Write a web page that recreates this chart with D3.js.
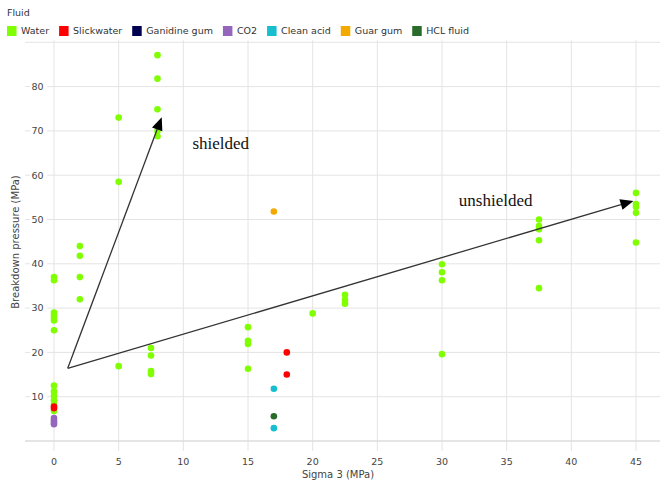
<!DOCTYPE html>
<html>
<head>
<meta charset="utf-8">
<script src="https://cdn.jsdelivr.net/npm/d3@7"></script>
<style>
  html, body { margin: 0; padding: 0; background: #fff; }
  svg { display: block; }
</style>
</head>
<body>
<svg id="chart" width="663" height="487"></svg>
<script>
// ---------- DATA ----------
const fluids = ["Water", "Slickwater", "Ganidine gum", "CO2", "Clean acid", "Guar gum", "HCL fluid"];
const fluidColors = ["#7fff00", "#ff0000", "#000050", "#9467bd", "#17becf", "#f2a900", "#2a6a2a"];

const waterX = [0,0,0,0,0,0,0,0,0,0,0,0,0,
                2,2,2,2,
                5,5,5,
                7.5,7.5,7.5,7.5,
                8,8,8,8,8,
                15,15,15,15,
                20,
                22.5,22.5,22.5,
                30,30,30,30,
                37.5,37.5,37.5,37.5,37.5,
                45,45,45,45,45];
const waterY = [37,36.3,29,28.4,27.8,27.2,25,12.5,11.2,10.2,9.2,8.4,6.8,
                44,41.8,37,32,
                73,58.5,16.9,
                21,19.3,15.8,15.1,
                87.1,81.8,74.9,70,68.8,
                25.7,22.6,21.9,16.3,
                28.8,
                33,31.9,31,
                39.9,38.1,36.3,19.6,
                50,48.5,47.8,45.3,34.5,
                56,53.5,52.8,51.5,44.8];
const slickwaterX = [0,0,18,18];
const slickwaterY = [7.8,7.4,20,15];
const ganidineX = [];
const ganidineY = [];
const co2X = [0,0,0,0];
const co2Y = [5.2,4.7,4.2,3.8];
const cleanAcidX = [17,17];
const cleanAcidY = [11.8,2.9];
const guarGumX = [17];
const guarGumY = [51.8];
const hclX = [17];
const hclY = [5.6];

const xTicks = [0,5,10,15,20,25,30,35,40,45];
const yTicks = [10,20,30,40,50,60,70,80];
const yGrid = [0,10,20,30,40,50,60,70,80,90];

// annotation arrows (data units)
const arrowStart = [1.06, 16.4];
const shieldedEnd = [8.33, 73.1];
const unshieldedEnd = [44.8, 54.2];
const annotLabels = ["shielded", "unshielded"];
const annotPos = [[10.7, 66.0], [31.3, 53.1]];

// ---------- DRAW ----------
const svg = d3.select("#chart");
const x = d3.scaleLinear().domain([0, 45]).range([54, 636]);
const y = d3.scaleLinear().domain([0, 90]).range([441, 42.3]);
const color = d3.scaleOrdinal().domain(fluids).range(fluidColors);

const plotLeft = 25, plotRight = 660;

// vertical gridlines
svg.append("g").selectAll("line").data(xTicks).join("line")
  .attr("x1", d => x(d)).attr("x2", d => x(d))
  .attr("y1", y(90) - 2).attr("y2", y(0) + 10)
  .attr("stroke", "#e4e4e4").attr("stroke-width", 1);

// horizontal gridlines
svg.append("g").selectAll("line").data(yGrid).join("line")
  .attr("x1", plotLeft).attr("x2", plotRight)
  .attr("y1", d => y(d)).attr("y2", d => y(d))
  .attr("stroke", d => d === 0 ? "#dcdcdc" : "#e4e4e4").attr("stroke-width", d => d === 0 ? 1.5 : 1);

// y tick labels with white background
const yl = svg.append("g").selectAll("g").data(yTicks).join("g")
  .attr("transform", d => `translate(43.5,${y(d)})`);
yl.append("rect").attr("x", -13.5).attr("y", -6).attr("width", 17).attr("height", 12).attr("fill", "#fff");
yl.append("text").attr("text-anchor", "end").attr("dy", "0.35em")
  .attr("font-family", "DejaVu Sans, sans-serif").attr("font-size", 9.5).attr("fill", "#444")
  .text(d => d);

// x tick labels
svg.append("g").selectAll("text").data(xTicks).join("text")
  .attr("x", d => x(d)).attr("y", 462).attr("dy", "0.35em").attr("text-anchor", "middle")
  .attr("font-family", "DejaVu Sans, sans-serif").attr("font-size", 9.5).attr("fill", "#444")
  .text(d => d);

// axis titles
svg.append("text").attr("x", 338).attr("y", 474).attr("dy", "0.35em").attr("text-anchor", "middle")
  .attr("font-family", "DejaVu Sans, sans-serif").attr("font-size", 10).attr("fill", "#444")
  .text("Sigma 3 (MPa)");
svg.append("text").attr("transform", "translate(15,242) rotate(-90)").attr("dy", "0.35em").attr("text-anchor", "middle")
  .attr("font-family", "DejaVu Sans, sans-serif").attr("font-size", 10).attr("fill", "#444")
  .text("Breakdown pressure (MPa)");

// points
const series = [
  ["Water", waterX, waterY],
  ["Slickwater", slickwaterX, slickwaterY],
  ["Ganidine gum", ganidineX, ganidineY],
  ["CO2", co2X, co2Y],
  ["Clean acid", cleanAcidX, cleanAcidY],
  ["Guar gum", guarGumX, guarGumY],
  ["HCL fluid", hclX, hclY]
];
series.forEach(([name, xs, ys]) => {
  const pts = xs.map((v, i) => [v, ys[i]]);
  svg.append("g").selectAll("circle").data(pts).join("circle")
    .attr("cx", d => x(d[0])).attr("cy", d => y(d[1])).attr("r", 3.3)
    .attr("fill", color(name));
});

// arrows
function arrow(from, to) {
  const x0 = x(from[0]), y0 = y(from[1]), x1 = x(to[0]), y1 = y(to[1]);
  const ang = Math.atan2(y1 - y0, x1 - x0);
  const L = 13, W = 5.5;
  const bx = x1 - L * Math.cos(ang), by = y1 - L * Math.sin(ang);
  svg.append("line").attr("x1", x0).attr("y1", y0).attr("x2", bx).attr("y2", by)
    .attr("stroke", "#333").attr("stroke-width", 1.3);
  const px = -Math.sin(ang), py = Math.cos(ang);
  svg.append("path")
    .attr("d", `M${x1},${y1}L${bx + W * px},${by + W * py}L${bx - W * px},${by - W * py}Z`)
    .attr("fill", "#000");
}
arrow(arrowStart, shieldedEnd);
arrow(arrowStart, unshieldedEnd);

// annotation text
svg.append("g").selectAll("text").data(annotLabels).join("text")
  .attr("x", (d, i) => x(annotPos[i][0])).attr("y", (d, i) => y(annotPos[i][1]))
  .attr("font-family", "Liberation Serif, Times New Roman, serif").attr("font-size", 17).attr("fill", "#111")
  .text(d => d);

// legend
svg.append("text").attr("x", 7).attr("y", 13).attr("dy", "0.35em")
  .attr("font-family", "DejaVu Sans, sans-serif").attr("font-size", 9.5).attr("fill", "#333")
  .text("Fluid");
let lx = 7;
fluids.forEach((f, i) => {
  const g = svg.append("g").attr("transform", `translate(${lx},26)`);
  g.append("rect").attr("width", 9.5).attr("height", 10).attr("fill", fluidColors[i]);
  const t = g.append("text").attr("x", 14).attr("y", 5).attr("dy", "0.35em")
    .attr("font-family", "DejaVu Sans, sans-serif").attr("font-size", 9.5).attr("fill", "#333")
    .text(f);
  lx += 14 + t.node().getComputedTextLength() + 10;
});
</script>
</body>
</html>
